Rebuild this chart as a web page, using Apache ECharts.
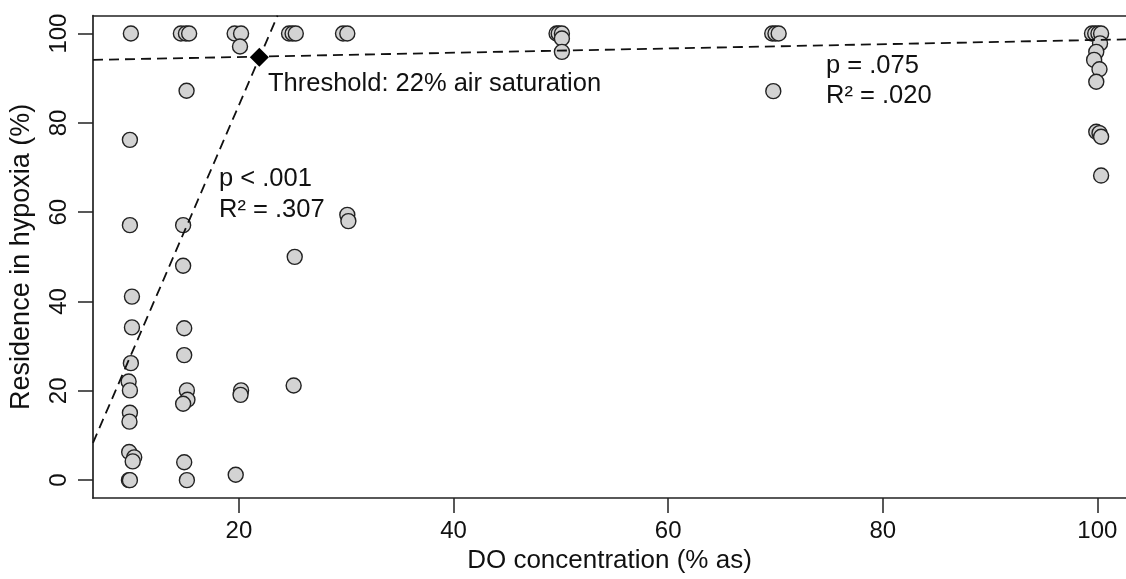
<!DOCTYPE html>
<html>
<head>
<meta charset="utf-8">
<script src="https://cdn.jsdelivr.net/npm/echarts@6/dist/echarts.min.js"></script>
<style>
html,body{margin:0;padding:0;background:#fff;}
#chart{width:1126px;height:579px;}
</style>
</head>
<body>
<div id="chart"></div>
<script>
// DO concentration (% air saturation) and residence in hypoxia (%)
const doConc = [
  9.93, 9.84, 9.84, 10.03, 10.03, 9.93, 9.72, 9.84, 9.84, 9.80, 9.77, 10.24, 10.10, 9.75, 9.84,
  14.59, 15.06, 15.36, 15.12, 14.80, 14.80, 14.90, 14.90, 15.15, 15.20, 14.80, 14.90, 15.15,
  19.60, 20.20, 20.10, 20.20, 20.15, 19.70,
  24.67, 25.00, 25.30, 25.20, 25.10,
  29.70, 30.10, 30.10, 30.20,
  49.60, 49.80, 50.10, 50.10, 50.10,
  69.70, 70.00, 70.30, 69.80,
  99.50, 99.80, 100.10, 100.35, 100.25, 99.90, 99.70, 100.20, 99.90, 99.90, 100.20, 100.35, 100.35
];
const residence = [
  100, 76.2, 57.1, 41.1, 34.2, 26.2, 22.1, 20.1, 15.1, 13.1, 6.3, 5.1, 4.2, 0, 0,
  100, 100, 100, 87.2, 57.1, 48.0, 34.0, 28.0, 20.1, 18.0, 17.1, 4.0, 0,
  100, 100, 97.1, 20.1, 19.1, 1.2,
  100, 100, 100, 50.0, 21.2,
  100, 100, 59.4, 58.0,
  100, 100, 100, 98.9, 95.9,
  100, 100, 100, 87.1,
  100, 100, 100, 100, 97.8, 95.9, 94.1, 92.0, 89.2, 78.0, 77.7, 76.9, 68.2
];
// fitted segments (end points)
const fitLowX = [6.4, 23.6];
const fitLowY = [8.35, 104];
const fitHighX = [6.4, 102.7];
const fitHighY = [94.1, 98.7];
const thresholdPoint = [21.9, 94.7];
const xTicks = [20, 40, 60, 80, 100];
const yTicks = [0, 20, 40, 60, 80, 100];

const FONT = '"Liberation Sans", Arial, sans-serif';
const chart = echarts.init(document.getElementById('chart'));
const pts = doConc.map((x, i) => [x, residence[i]]);
const low = fitLowX.map((x, i) => [x, fitLowY[i]]);
const high = fitHighX.map((x, i) => [x, fitHighY[i]]);

const txt = {fontFamily: FONT, fontSize: 25.5, fill: '#111'};
const axisLineStyle = {color: '#222', width: 1.7};
chart.setOption({
  animation: false,
  backgroundColor: '#fff',
  grid: {left: 92, top: 15.7, right: 0, bottom: 81, show: false},
  xAxis: [{
    type: 'value', min: 6.4, max: 102.67,
    splitLine: {show: false},
    axisLine: {show: true, onZero: false, lineStyle: axisLineStyle},
    axisTick: {show: true, length: 15, customValues: xTicks, lineStyle: {color: '#222', width: 1.5}},
    axisLabel: {customValues: xTicks, margin: 21, fontSize: 24, color: '#111', fontFamily: FONT},
    name: 'DO concentration (% as)', nameLocation: 'middle', nameGap: 46,
    nameTextStyle: {fontSize: 26, color: '#111', fontFamily: FONT}
  }, {
    type: 'value', position: 'top', min: 6.4, max: 102.67,
    splitLine: {show: false},
    axisLine: {show: true, onZero: false, lineStyle: axisLineStyle},
    axisTick: {show: false}, axisLabel: {show: false}
  }],
  yAxis: {
    type: 'value', min: -4, max: 104,
    splitLine: {show: false},
    axisLine: {show: true, onZero: false, lineStyle: axisLineStyle},
    axisTick: {show: true, length: 15, customValues: yTicks, lineStyle: {color: '#222', width: 1.5}},
    axisLabel: {customValues: yTicks, rotate: 90, margin: 22, fontSize: 24, color: '#111', fontFamily: FONT},
    name: 'Residence in hypoxia (%)', nameLocation: 'middle', nameGap: 58,
    nameTextStyle: {fontSize: 27, color: '#111', fontFamily: FONT}
  },
  series: [
    {
      type: 'scatter', data: pts, symbol: 'circle', symbolSize: 15, z: 2,
      itemStyle: {color: '#d3d3d3', borderColor: '#222', borderWidth: 1.4, opacity: 1}
    },
    {
      type: 'line', data: low, symbol: 'none', z: 3, clip: true,
      lineStyle: {color: '#111', width: 1.8, type: [10, 6]}
    },
    {
      type: 'line', data: high, symbol: 'none', z: 3, clip: true,
      lineStyle: {color: '#111', width: 1.8, type: [10, 6]}
    },
    {
      type: 'scatter', data: [thresholdPoint], symbol: 'diamond', symbolSize: 19, z: 4,
      itemStyle: {color: '#000', opacity: 1}
    }
  ],
  graphic: [
    {type: 'text', left: 268, top: 71, style: Object.assign({text: 'Threshold: 22% air saturation'}, txt)},
    {type: 'text', left: 219, top: 166, style: Object.assign({text: 'p < .001'}, txt)},
    {type: 'text', left: 219, top: 197, style: Object.assign({text: 'R² = .307'}, txt)},
    {type: 'text', left: 826, top: 53, style: Object.assign({text: 'p = .075'}, txt)},
    {type: 'text', left: 826, top: 83, style: Object.assign({text: 'R² = .020'}, txt)}
  ]
});
</script>
</body>
</html>
